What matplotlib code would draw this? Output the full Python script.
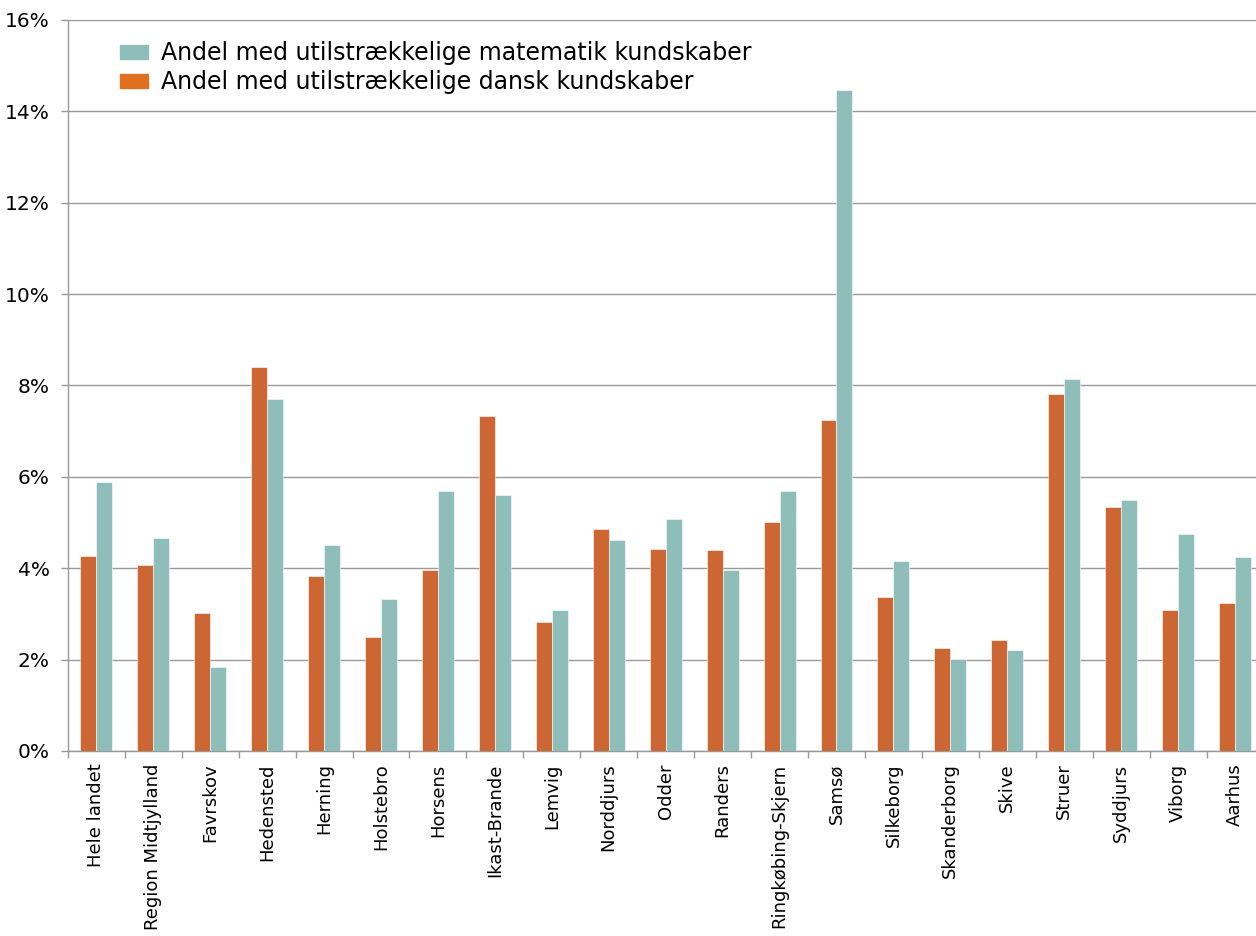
import numpy as np
import matplotlib.pyplot as plt
from matplotlib.patches import Patch

kommuner = ['Hele landet', 'Region Midtjylland', 'Favrskov', 'Hedensted', 'Herning',
            'Holstebro', 'Horsens', 'Ikast-Brande', 'Lemvig', 'Norddjurs', 'Odder',
            'Randers', 'Ringkøbing-Skjern', 'Samsø', 'Silkeborg', 'Skanderborg',
            'Skive', 'Struer', 'Syddjurs', 'Viborg', 'Aarhus']
dansk = [4.27, 4.07, 3.02, 8.40, 3.83, 2.50, 3.96, 7.33, 2.82, 4.86, 4.42,
         4.40, 5.01, 7.24, 3.37, 2.25, 2.43, 7.81, 5.34, 3.09, 3.24]
matematik = [5.89, 4.66, 1.84, 7.70, 4.51, 3.33, 5.69, 5.60, 3.09, 4.62, 5.08,
             3.96, 5.69, 14.47, 4.16, 2.01, 2.21, 8.14, 5.49, 4.75, 4.25]

c_dansk = '#CC6633'
c_mat = '#8FBDBA'
grey = '#999999'

fig = plt.figure(figsize=(12.56, 9.36), dpi=100)
ax = fig.add_axes([0.054, 0.1977, 0.952, 0.781])

x = np.arange(len(kommuner))
w = 0.28
ax.bar(x - w / 2, dansk, w, color=c_dansk, edgecolor='white', linewidth=0.4, zorder=3)
ax.bar(x + w / 2, matematik, w, color=c_mat, edgecolor='white', linewidth=0.4, zorder=3)

ax.set_xlim(-0.5, len(kommuner) - 0.5)
ax.set_ylim(0, 16)
ax.set_yticks(np.arange(0, 17, 2))
ax.set_yticklabels([f'{v}%' for v in range(0, 17, 2)], fontsize=14.5)
ax.yaxis.grid(True, color=grey, linewidth=1, zorder=0)

ax.set_xticks(x)
ax.set_xticklabels(kommuner, rotation=90, fontsize=13)
ax.tick_params(axis='x', length=0, pad=9)
ax.set_xticks(np.arange(-0.5, len(kommuner), 1), minor=True)
ax.tick_params(axis='x', which='minor', length=5, color=grey, width=1)
ax.tick_params(axis='y', length=5, color=grey, width=1, pad=8)

for s in ['top', 'right']:
    ax.spines[s].set_visible(False)
for s in ['left', 'bottom']:
    ax.spines[s].set_color(grey)
    ax.spines[s].set_linewidth(1)

handles = [Patch(color=c_mat, label='Andel med utilstrækkelige matematik kundskaber'),
           Patch(color='#E07020', label='Andel med utilstrækkelige dansk kundskaber')]
ax.legend(handles=handles, loc='upper left', bbox_to_anchor=(0.026, 1.0),
          frameon=False, fontsize=17, handlelength=1.2, handleheight=0.5,
          labelspacing=0.22, handletextpad=0.55)

fig.savefig('out.png', dpi=100)
